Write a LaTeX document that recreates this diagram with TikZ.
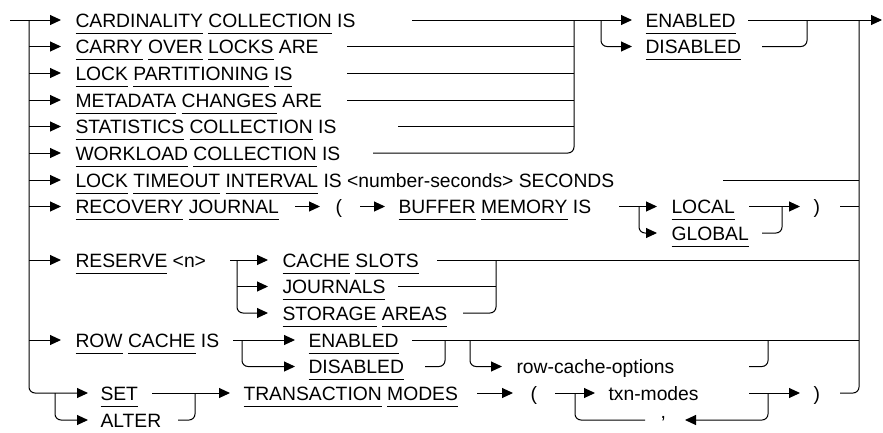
\documentclass[tikz,border=0pt]{standalone}
\usepackage{fontspec}
\setmainfont{Liberation Sans}
\usetikzlibrary{arrows.meta}
\newcommand\kw[1]{\setbox0\hbox{#1}\rlap{\vrule height -5.5pt depth 6.5pt width \wd0}\box0\relax}
\begin{document}
\begin{tikzpicture}[x=1pt,y=-1pt,line width=1pt,
  arr/.style={-{Triangle[length=11pt,width=10pt]}},
  rc/.style={rounded corners=6pt},
  txt/.style={anchor=base west,inner sep=0pt,font=\fontsize{19.3}{22}\selectfont}]
\useasboundingbox (0,0) rectangle (883,432);
% main trunk
\draw[arr] (10,20) -- (61,20);
\draw[rc,arr] (29,20) |- (88,393);
\foreach \y in {46.5,73,100,126.5,153,180,206.5,260,340}
  \draw[arr] (29,\y) -- (61,\y);
% texts left column
\node[txt] (t1) at (75,27) {\kw{CARDINALITY} \kw{COLLECTION} IS};
\node[txt] (t2) at (75,53.5) {\kw{CARRY} \kw{OVER} \kw{LOCKS} ARE};
\node[txt] (t3) at (75,80) {\kw{LOCK} \kw{PARTITIONING} \kw{IS}};
\node[txt] (t4) at (75,107) {\kw{METADATA} \kw{CHANGES} ARE};
\node[txt] (t5) at (75,133.5) {\kw{STATISTICS} \kw{COLLECTION} IS};
\node[txt] (t6) at (75,160) {\kw{WORKLOAD} \kw{COLLECTION} IS};
\node[txt] (t7) at (75,187) {\kw{LOCK} \kw{TIMEOUT} \kw{INTERVAL} IS <number-seconds> SECONDS};
\node[txt] (t8) at (75,213.5) {\kw{RECOVERY} \kw{JOURNAL}};
\node[txt] (t9) at (75,267) {\kw{RESERVE} <n>};
\node[txt] (t12) at (75,347) {\kw{ROW} \kw{CACHE} IS};
% group 1 joins
\draw[arr] (412,20) -- (632,20);
\draw (347,46.5) -- (574,46.5);
\draw (347,73) -- (574,73);
\draw (347,100) -- (574,100);
\draw (398,126.5) -- (574,126.5);
\draw[rc] (373,153) -| (574,20);
\draw[rc,arr] (601,20) |- (632,46.5);
\node[txt] (en1) at (645,27) {\kw{ENABLED}};
\node[txt] (dis1) at (645,53.5) {\kw{DISABLED}};
\draw[arr] (748,20) -- (882,20);
\draw[rc] (762,46.5) -| (807,20);
% exit bus
\draw[rc] (840,393) -| (859,20);
% row 7
\draw (723,180) -- (859,180);
% row 8
\draw[arr] (295,206.5) -- (320,206.5);
\node[txt] (lp1) at (335,213.5) {(};
\draw[arr] (360,206.5) -- (385,206.5);
\node[txt] (buf) at (398,213.5) {\kw{BUFFER} \kw{MEMORY} IS};
\draw[arr] (619,206.5) -- (657,206.5);
\draw[rc,arr] (639,206.5) |- (657,233);
\node[txt] (loc) at (671,213.5) {\kw{LOCAL}};
\node[txt] (glo) at (671,240) {\kw{GLOBAL}};
\draw[arr] (749,206.5) -- (800,206.5);
\draw[rc] (762,233) -| (782,206.5);
\node[txt] (rp1) at (813,213.5) {)};
\draw (840,206.5) -- (859,206.5);
% row 9 reserve
\draw[arr] (230,260) -- (268,260);
\draw[rc,arr] (237,260) |- (268,313);
\draw[arr] (237,286.5) -- (268,286.5);
\node[txt] (cs) at (282,267) {\kw{CACHE} \kw{SLOTS}};
\node[txt] (jn) at (282,293.5) {\kw{JOURNALS}};
\node[txt] (sa) at (282,320) {\kw{STORAGE} \kw{AREAS}};
\draw (437,260) -- (859,260);
\draw (398,286.5) -- (496,286.5);
\draw[rc] (463,313) -| (496,260);
% row cache
\draw[arr] (233,340) -- (295,340);
\draw[rc,arr] (242,340) |- (295,366.5);
\node[txt] (en2) at (308,347) {\kw{ENABLED}};
\node[txt] (dis2) at (308,373.5) {\kw{DISABLED}};
\draw (412,340) -- (859,340);
\draw[rc,arr] (470,340) |- (502,366.5);
\draw[rc] (425,366.5) -| (445,340);
\node[txt] (rco) at (516,373.5) {row-cache-options};
\draw[rc] (749,366.5) -| (768,340);
% set / alter
\draw[rc,arr] (55,393) |- (88,420);
\node[txt] (set) at (100,400) {\kw{SET}};
\node[txt] (alt) at (100,427) {ALTER};
\draw[arr] (152,393) -- (230,393);
\draw[rc] (178,420) -| (195,393);
\node[txt] (tm) at (243,400) {\kw{TRANSACTION} \kw{MODES}};
\draw[arr] (477,393) -- (513,393);
\node[txt] (lp2) at (530,400) {(};
\draw[arr] (555,393) -- (595,393);
\node[txt] (txn) at (608,400) {txn-modes};
\draw[rc] (645,420) -| (575,393);
\node[txt] (cm) at (660,418) {,};
\draw[rc,arr] (768,393) |- (685,420);
\draw[arr] (749,393) -- (800,393);
\node[txt] (rp2) at (813,400) {)};
\end{tikzpicture}
\end{document}
